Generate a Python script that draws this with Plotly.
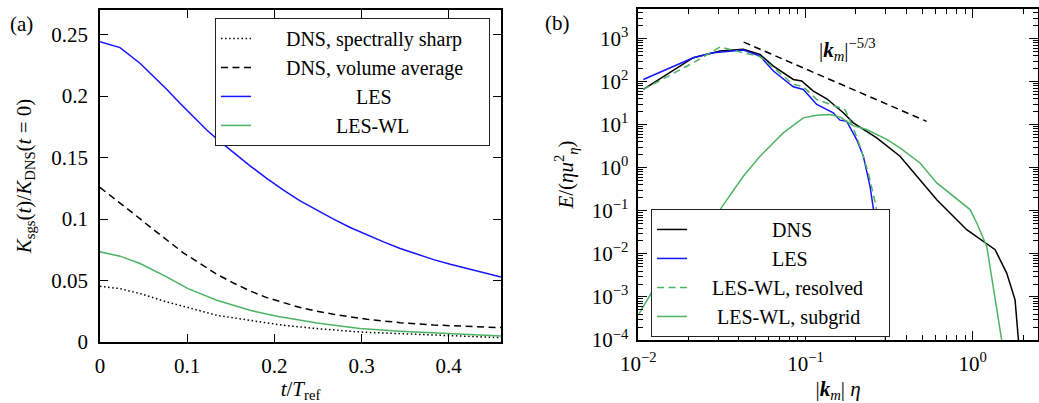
import plotly.graph_objects as go

# ---------------- data: panel (a) ----------------
t_les = [0.0, 0.023, 0.0459, 0.0612, 0.0765, 0.0918, 0.1072, 0.1225, 0.1378, 0.1531, 0.1722, 0.1913,
         0.2105, 0.2296, 0.2488, 0.2679, 0.287, 0.3062, 0.3253, 0.3444, 0.3636, 0.3827, 0.4018, 0.421,
         0.4401, 0.46]
k_les = [0.2443, 0.2394, 0.2267, 0.2163, 0.2055, 0.1941, 0.1832, 0.1724, 0.1629, 0.1539, 0.1433, 0.1330,
         0.1235, 0.1148, 0.1072, 0.0999, 0.0931, 0.0869, 0.0814, 0.0760, 0.0714, 0.0670, 0.0632, 0.0597,
         0.0562, 0.0529]

t_vol = [0.0, 0.0191, 0.0383, 0.0574, 0.0765, 0.0957, 0.1148, 0.1339, 0.1531, 0.1722, 0.1913, 0.2105,
         0.2296, 0.2488, 0.2679, 0.3062, 0.3444, 0.3827, 0.421, 0.46]
k_vol = [0.1257, 0.1154, 0.1045, 0.0936, 0.0828, 0.0725, 0.0638, 0.0551, 0.0480, 0.0415, 0.0361, 0.0318,
         0.0280, 0.0250, 0.0225, 0.0185, 0.0157, 0.0138, 0.0125, 0.0117]

t_wl = [0.0, 0.023, 0.046, 0.0765, 0.101, 0.134, 0.172, 0.203, 0.249, 0.298, 0.344, 0.402, 0.46]
k_wl = [0.0733, 0.0698, 0.0638, 0.0529, 0.0434, 0.0339, 0.0258, 0.0209, 0.0155, 0.0109, 0.0087, 0.0068, 0.0049]

t_sharp = [0.0, 0.023, 0.046, 0.0765, 0.101, 0.134, 0.172, 0.21, 0.249, 0.298, 0.344, 0.402, 0.46]
k_sharp = [0.0453, 0.0434, 0.0394, 0.0326, 0.028, 0.0217, 0.0176, 0.0136, 0.0109, 0.0081, 0.0068, 0.0049, 0.0035]

# ---------------- data: panel (b) ----------------
kd = [0.01072, 0.02133, 0.03083, 0.04246, 0.05346, 0.06427, 0.08453, 0.09484, 0.1114, 0.1340, 0.1683,
      0.1932, 0.2667, 0.3673, 0.6095, 0.9204, 1.361, 1.596, 1.791, 1.892, 1.919]
Ed = [66.2, 361, 516, 565, 431, 231, 113, 104, 60.5, 40.2, 19.0,
      11.1, 4.97, 1.86, 0.182, 0.0365, 0.0125, 0.00358, 8.57e-4, 1.0e-4, 3.5e-5]

kl = [0.01072, 0.02133, 0.02812, 0.04246, 0.05346, 0.06427, 0.08453, 0.09705, 0.1167, 0.1466, 0.1607,
      0.1762, 0.2023, 0.2218, 0.2432, 0.2570, 0.2692, 0.2767]
El = [113, 361, 472, 545, 395, 177, 76.4, 66.2, 29.7, 19.0, 12.8,
      12.1, 4.54, 1.86, 0.372, 0.0891, 0.0051, 1.4e-4]

kr = [0.01072, 0.02133, 0.03083, 0.04246, 0.05346, 0.06427, 0.08453, 0.09705, 0.1167, 0.1466, 0.1722,
      0.1932, 0.2118, 0.2377, 0.2642, 0.2858, 0.302, 0.305]
Er = [66.2, 276, 640, 472, 381, 211, 86.5, 76.4, 38.7, 28.1, 22.6,
      8.49, 3.18, 0.760, 0.128, 0.0073, 1.0e-4, 2.4e-5]

ks = [0.0100, 0.01230, 0.01774, 0.03083, 0.04246, 0.05346, 0.07362, 0.09705, 0.1167, 0.1400, 0.1610,
      0.1930, 0.2320, 0.3060, 0.3670, 0.4842, 0.6095, 0.7656, 0.9638, 1.057, 1.213, 1.490, 1.538]
Es = [3.8e-4, 1.47e-3, 0.0104, 0.107, 0.637, 1.86, 6.49, 14.5, 16.6, 17.4, 15.1,
      9.55, 7.76, 4.57, 2.90, 1.30, 0.446, 0.218, 0.107, 0.0522, 0.0150, 1.0e-4, 4e-5]

k_ref = [0.0427, 0.530]
E_ref = [832, 12.0]

x_ticks_b = [0.01, 0.1, 1]
x_ticktext_b = ["10<sup>−2</sup>", "10<sup>−1</sup>", "10<sup>0</sup>"]
y_ticks_b = [1e-4, 1e-3, 1e-2, 1e-1, 1, 10, 100, 1000]
y_ticktext_b = ["10<sup>−4</sup>", "10<sup>−3</sup>", "10<sup>−2</sup>", "10<sup>−1</sup>",
                "10<sup>0</sup>", "10<sup>1</sup>", "10<sup>2</sup>", "10<sup>3</sup>"]

BLUE = "#1414ff"
GREEN = "#4cb463"
FONT = "Liberation Serif"
FS = 21
LFS = 20
NB = "\u00a0"

fig = go.Figure()

# panel (a)
fig.add_trace(go.Scatter(x=t_sharp, y=k_sharp, mode="lines", name=NB * 6 + "DNS, spectrally sharp",
                         line=dict(color="black", width=1.5, dash="1.5px,2.6px"),
                         xaxis="x", yaxis="y", legend="legend"))
fig.add_trace(go.Scatter(x=t_vol, y=k_vol, mode="lines", name=NB * 6 + "DNS, volume average" + NB * 4,
                         line=dict(color="black", width=1.5, dash="7px,4.5px"),
                         xaxis="x", yaxis="y", legend="legend"))
fig.add_trace(go.Scatter(x=t_les, y=k_les, mode="lines", name=NB * 20 + "LES",
                         line=dict(color=BLUE, width=1.5), xaxis="x", yaxis="y", legend="legend"))
fig.add_trace(go.Scatter(x=t_wl, y=k_wl, mode="lines", name=NB * 16 + "LES-WL",
                         line=dict(color=GREEN, width=1.5), xaxis="x", yaxis="y", legend="legend"))

# panel (b)
fig.add_trace(go.Scatter(x=k_ref, y=E_ref, mode="lines", showlegend=False,
                         line=dict(color="black", width=1.5, dash="7px,4.5px"),
                         xaxis="x2", yaxis="y2"))
fig.add_trace(go.Scatter(x=kd, y=Ed, mode="lines", name=NB * 16 + "DNS",
                         line=dict(color="black", width=1.5), xaxis="x2", yaxis="y2", legend="legend2"))
fig.add_trace(go.Scatter(x=kl, y=El, mode="lines", name=NB * 16 + "LES",
                         line=dict(color=BLUE, width=1.5), xaxis="x2", yaxis="y2", legend="legend2"))
fig.add_trace(go.Scatter(x=kr, y=Er, mode="lines", name=NB * 4 + "LES-WL, resolved" + NB * 4,
                         line=dict(color=GREEN, width=1.5, dash="7px,4.5px"),
                         xaxis="x2", yaxis="y2", legend="legend2"))
fig.add_trace(go.Scatter(x=ks, y=Es, mode="lines", name=NB * 5 + "LES-WL, subgrid",
                         line=dict(color=GREEN, width=1.5), xaxis="x2", yaxis="y2", legend="legend2"))

axis_common = dict(showline=True, linecolor="black", linewidth=1.5, mirror="ticks",
                   ticks="inside", tickcolor="black", tickwidth=1, showgrid=False,
                   zeroline=False, automargin=False,
                   tickfont=dict(family=FONT, size=FS, color="black"))

minor_x = [m * d for d in (0.01, 0.1, 1) for m in range(2, 10)]
minor_y = [m * d for d in (1e-4, 1e-3, 1e-2, 1e-1, 1, 10, 100, 1000) for m in range(2, 10)]

fig.update_layout(
    width=1039, height=403,
    margin=dict(l=0, r=0, t=0, b=0, autoexpand=False),
    paper_bgcolor="white", plot_bgcolor="white",
    font=dict(family=FONT, size=FS, color="black"),
    xaxis=dict(axis_common, domain=[0.0962, 0.4822], range=[0, 0.46], dtick=0.1, tick0=0,
               ticklen=8, anchor="y", ticklabelstandoff=4,
               title=dict(text="<i>t</i>/<i>T</i><sub>ref</sub>", standoff=12,
                          font=dict(family=FONT, size=FS))),
    yaxis=dict(axis_common, domain=[0.1514, 0.9752], range=[0, 0.27], dtick=0.05, tick0=0,
               ticklen=8, anchor="x", ticklabelstandoff=6,
               title=dict(text="<i>K</i><sub>sgs</sub>(<i>t</i>)/<i>K</i><sub>DNS</sub>(<i>t</i> = 0)",
                          standoff=14, font=dict(family=FONT, size=FS))),
    xaxis2=dict(axis_common, type="log", domain=[0.6143, 0.999], range=[-2, 0.39],
                tickmode="array", tickvals=x_ticks_b, ticktext=x_ticktext_b,
                ticklen=9, anchor="y2", ticklabelstandoff=4,
                minor=dict(ticks="inside", ticklen=5, tickwidth=1, tickcolor="black",
                           tickmode="array", tickvals=minor_x, showgrid=False),
                title=dict(text="|<b><i>k</i></b><sub><i>m</i></sub>| <i>η</i>", standoff=12,
                           font=dict(family=FONT, size=FS))),
    yaxis2=dict(axis_common, type="log", domain=[0.1563, 0.9777], range=[-4, 3.69],
                tickmode="array", tickvals=y_ticks_b, ticktext=y_ticktext_b,
                ticklen=9, anchor="x2", ticklabelstandoff=4,
                minor=dict(ticks="inside", ticklen=5, tickwidth=1, tickcolor="black",
                           tickmode="array", tickvals=minor_y, showgrid=False),
                title=dict(text="<i>E</i>/(<i>ηu</i><sup>2</sup><sub><i>η</i></sub>)", standoff=12,
                           font=dict(family=FONT, size=FS))),
    legend=dict(x=0.2069, y=0.9555, xanchor="left", yanchor="top", bgcolor="white",
                bordercolor="#222", borderwidth=1, font=dict(family=FONT, size=LFS),
                tracegroupgap=0, itemwidth=30),
    legend2=dict(x=0.6266, y=0.4815, xanchor="left", yanchor="top", bgcolor="white",
                 bordercolor="#222", borderwidth=1, font=dict(family=FONT, size=LFS),
                 tracegroupgap=0, itemwidth=30),
    showlegend=True,
)

fig.add_annotation(x=-0.75, y=2.75, xref="x2", yref="y2", showarrow=False,
                   text="|<b><i>k</i></b><sub><i>m</i></sub>|<sup>−5/3</sup>",
                   font=dict(family=FONT, size=FS))
fig.add_annotation(x=21 / 1039, y=1 - 24 / 403, xref="paper", yref="paper", showarrow=False,
                   xanchor="center", yanchor="middle",
                   text="(a)", font=dict(family=FONT, size=FS))
fig.add_annotation(x=557 / 1039, y=1 - 23 / 403, xref="paper", yref="paper", showarrow=False,
                   xanchor="center", yanchor="middle",
                   text="(b)", font=dict(family=FONT, size=FS))

fig.write_html("out.html")
